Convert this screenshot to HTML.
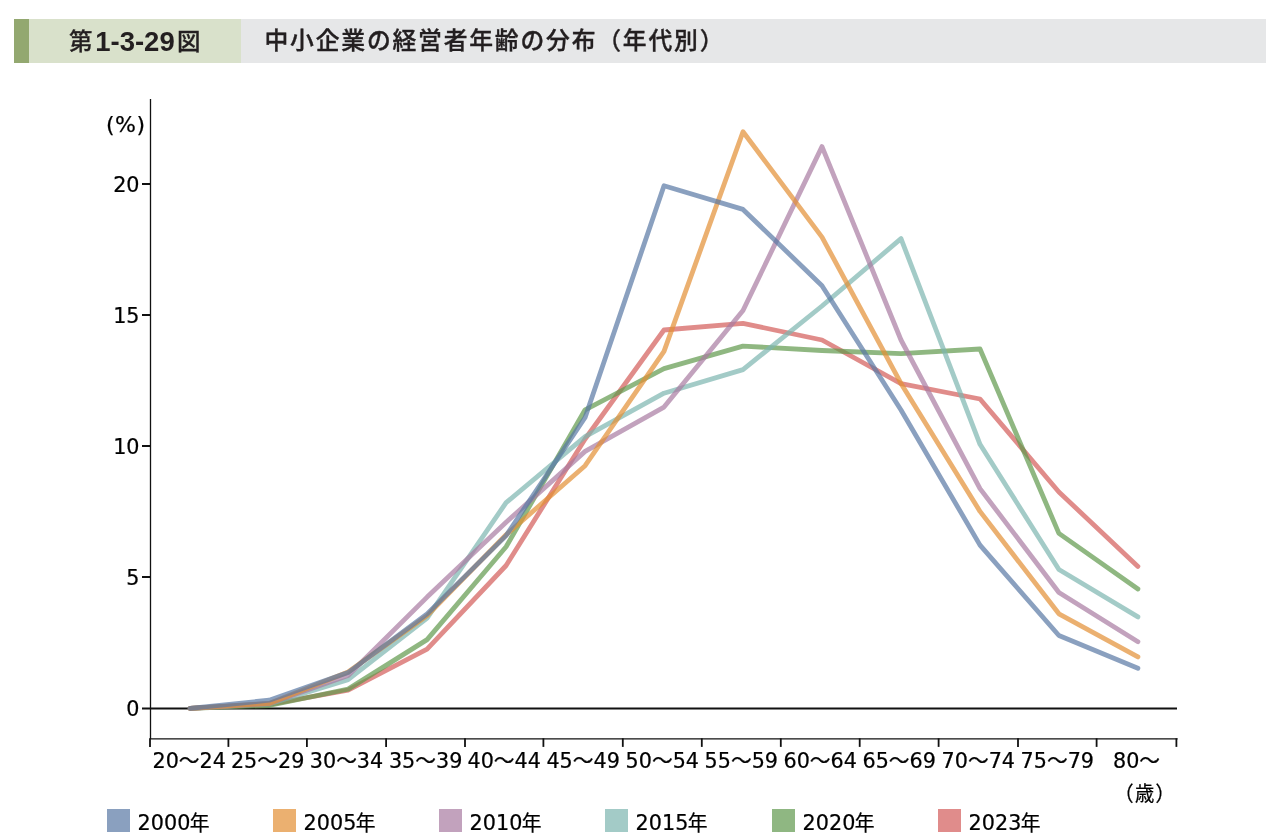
<!DOCTYPE html>
<html lang="ja">
<head>
<meta charset="utf-8">
<title>第1-3-29図 中小企業の経営者年齢の分布（年代別）</title>
<style>
html,body{margin:0;padding:0;background:#fff;}
body{width:1282px;height:840px;position:relative;overflow:hidden;font-family:"Liberation Sans","Noto Sans CJK JP",sans-serif;color:#231f20;}
.hdr{position:absolute;left:14px;top:19px;width:1252px;height:44px;background:#e6e7e8;}
.hdr .stripe{position:absolute;left:0;top:0;width:15px;height:44px;background:#93a870;}
.hdr .num{position:absolute;left:15px;top:0;width:212px;height:44px;background:#d9e1cb;}
.hdr .num span{position:absolute;white-space:nowrap;line-height:1;}
.hdr .ttl{position:absolute;left:250.5px;top:-2px;height:44px;line-height:44px;font-size:23.8px;font-weight:500;letter-spacing:1.8px;-webkit-text-stroke:0.35px #231f20;white-space:nowrap;font-family:"Noto Sans CJK JP","Liberation Sans",sans-serif;}
svg{position:absolute;left:0;top:0;}
svg text{font-family:"DejaVu Sans","Noto Sans CJK JP",sans-serif;fill:#000;stroke:#000;stroke-width:0.25px;}
</style>
</head>
<body>
<div class="hdr">
  <div class="stripe"></div>
  <div class="num"><span class="k1" style="left:40px;top:9.5px;font-size:23.5px;font-weight:500;-webkit-text-stroke:0.3px #231f20;font-family:'Noto Sans CJK JP',sans-serif;">第</span><span class="n" style="left:66.2px;top:9.1px;font-size:27.5px;font-weight:700;font-family:'Liberation Sans',sans-serif;">1-3-29</span><span class="k2" style="left:148px;top:9.5px;font-size:23.5px;font-weight:500;-webkit-text-stroke:0.3px #231f20;font-family:'Noto Sans CJK JP',sans-serif;">図</span></div>
  <div class="ttl">中小企業の経営者年齢の分布（年代別）</div>
</div>
<svg width="1282" height="840" viewBox="0 0 1282 840">

<g stroke="#111" fill="none">
<line x1="150.5" y1="99" x2="150.5" y2="739" stroke-width="1.3"/>
<line x1="150" y1="738.8" x2="1177.6" y2="738.8" stroke-width="1.3"/>
<line x1="142" y1="708.6" x2="1177" y2="708.6" stroke-width="2"/>
<line x1="142" y1="184" x2="150" y2="184" stroke-width="2"/>
<line x1="142" y1="315" x2="150" y2="315" stroke-width="2"/>
<line x1="142" y1="446" x2="150" y2="446" stroke-width="2"/>
<line x1="142" y1="577" x2="150" y2="577" stroke-width="2"/>
<line x1="150" y1="738.3" x2="150" y2="746.9" stroke-width="1.8"/>
<line x1="228.4" y1="738.3" x2="228.4" y2="746.9" stroke-width="1.8"/>
<line x1="306.9" y1="738.3" x2="306.9" y2="746.9" stroke-width="1.8"/>
<line x1="386.1" y1="738.3" x2="386.1" y2="746.9" stroke-width="1.8"/>
<line x1="465" y1="738.3" x2="465" y2="746.9" stroke-width="1.8"/>
<line x1="543.4" y1="738.3" x2="543.4" y2="746.9" stroke-width="1.8"/>
<line x1="622.8" y1="738.3" x2="622.8" y2="746.9" stroke-width="1.8"/>
<line x1="701.8" y1="738.3" x2="701.8" y2="746.9" stroke-width="1.8"/>
<line x1="780.8" y1="738.3" x2="780.8" y2="746.9" stroke-width="1.8"/>
<line x1="859.7" y1="738.3" x2="859.7" y2="746.9" stroke-width="1.8"/>
<line x1="938.6" y1="738.3" x2="938.6" y2="746.9" stroke-width="1.8"/>
<line x1="1018" y1="738.3" x2="1018" y2="746.9" stroke-width="1.8"/>
<line x1="1096.6" y1="738.3" x2="1096.6" y2="746.9" stroke-width="1.8"/>
<line x1="1176.4" y1="738.3" x2="1176.4" y2="746.9" stroke-width="1.8"/>
</g>
<g fill="none" stroke-width="4.8" stroke-linecap="round" stroke-linejoin="round" opacity="1">
<polyline points="190.2,708.3 269.2,704.5 348.1,690.1 427.1,649.1 506.1,565.5 585.1,439.0 664.0,330.0 743.0,323.4 822.0,340.0 901.0,383.7 980.0,399.0 1058.9,492.0 1137.9,566.4" stroke="#D35B59" stroke-opacity="0.7"/>
<polyline points="190.2,708.3 269.2,705.5 348.1,689.1 427.1,639.6 506.1,546.7 585.1,409.8 664.0,368.6 743.0,346.1 822.0,350.5 901.0,353.6 980.0,349.0 1058.9,533.4 1137.9,589.0" stroke="#5F984C" stroke-opacity="0.7"/>
<polyline points="190.2,708.3 269.2,704.0 348.1,679.6 427.1,618.1 506.1,502.6 585.1,436.7 664.0,393.2 743.0,369.6 822.0,306.0 901.0,238.6 980.0,444.3 1058.9,569.5 1137.9,616.9" stroke="#7CB5AF" stroke-opacity="0.7"/>
<polyline points="190.2,708.3 269.2,703.5 348.1,675.5 427.1,597.1 506.1,522.3 585.1,451.4 664.0,407.1 743.0,310.5 822.0,146.6 901.0,340.0 980.0,488.6 1058.9,592.5 1137.9,641.7" stroke="#A87AA1" stroke-opacity="0.7"/>
<polyline points="190.2,708.3 269.2,703.4 348.1,672.0 427.1,615.6 506.1,534.8 585.1,465.7 664.0,351.4 743.0,131.8 822.0,237.1 901.0,383.4 980.0,511.4 1058.9,613.8 1137.9,656.9" stroke="#E28E33" stroke-opacity="0.7"/>
<polyline points="190.2,708.3 269.2,700.2 348.1,672.6 427.1,613.9 506.1,535.6 585.1,417.5 664.0,185.7 743.0,209.4 822.0,285.7 901.0,410.0 980.0,545.1 1058.9,635.5 1137.9,668.3" stroke="#5877A4" stroke-opacity="0.7"/>
</g>
<g font-size="22">
<text transform="translate(139.5,192.2) scale(0.942,1)" text-anchor="end">20</text>
<text transform="translate(139.5,323.2) scale(0.942,1)" text-anchor="end">15</text>
<text transform="translate(139.5,454.2) scale(0.942,1)" text-anchor="end">10</text>
<text transform="translate(139.5,585.2) scale(0.942,1)" text-anchor="end">5</text>
<text transform="translate(139.5,716.2) scale(0.942,1)" text-anchor="end">0</text>
<text transform="translate(145.8,132.3) scale(1.0,1)" text-anchor="end" letter-spacing="0.6">(%)</text>
</g>
<g font-size="22">
<text transform="translate(189.2,768) scale(0.942,1)" text-anchor="middle">20～24</text>
<text transform="translate(267.6,768) scale(0.942,1)" text-anchor="middle">25～29</text>
<text transform="translate(346.5,768) scale(0.942,1)" text-anchor="middle">30～34</text>
<text transform="translate(425.6,768) scale(0.942,1)" text-anchor="middle">35～39</text>
<text transform="translate(504.2,768) scale(0.942,1)" text-anchor="middle">40～44</text>
<text transform="translate(583.1,768) scale(0.942,1)" text-anchor="middle">45～49</text>
<text transform="translate(662.3,768) scale(0.942,1)" text-anchor="middle">50～54</text>
<text transform="translate(741.3,768) scale(0.942,1)" text-anchor="middle">55～59</text>
<text transform="translate(820.2,768) scale(0.942,1)" text-anchor="middle">60～64</text>
<text transform="translate(899.2,768) scale(0.942,1)" text-anchor="middle">65～69</text>
<text transform="translate(978.3,768) scale(0.942,1)" text-anchor="middle">70～74</text>
<text transform="translate(1057.3,768) scale(0.942,1)" text-anchor="middle">75～79</text>
<text transform="translate(1136.5,768) scale(0.942,1)" text-anchor="middle">80～</text>
<text transform="translate(1145.2,801.2) scale(0.942,1)" text-anchor="middle" font-size="20.5" letter-spacing="1.4">（歳）</text>
</g>
<g font-size="22">
<rect x="107" y="809" width="23" height="23" fill="#8AA0BF"/>
<text transform="translate(137.6,830.3) scale(0.942,1)" text-anchor="start">2000<tspan font-size="21" dy="-0.4" dx="-0.5">年</tspan></text>
<rect x="273" y="809" width="23" height="23" fill="#EBB070"/>
<text transform="translate(303.6,830.3) scale(0.942,1)" text-anchor="start">2005<tspan font-size="21" dy="-0.4" dx="-0.5">年</tspan></text>
<rect x="439" y="809" width="23" height="23" fill="#C2A2BD"/>
<text transform="translate(469.6,830.3) scale(0.942,1)" text-anchor="start">2010<tspan font-size="21" dy="-0.4" dx="-0.5">年</tspan></text>
<rect x="605" y="809" width="23" height="23" fill="#A3CBC7"/>
<text transform="translate(635.6,830.3) scale(0.942,1)" text-anchor="start">2015<tspan font-size="21" dy="-0.4" dx="-0.5">年</tspan></text>
<rect x="772" y="809" width="23" height="23" fill="#8FB782"/>
<text transform="translate(802.6,830.3) scale(0.942,1)" text-anchor="start">2020<tspan font-size="21" dy="-0.4" dx="-0.5">年</tspan></text>
<rect x="938" y="809" width="23" height="23" fill="#E08C8B"/>
<text transform="translate(968.6,830.3) scale(0.942,1)" text-anchor="start">2023<tspan font-size="21" dy="-0.4" dx="-0.5">年</tspan></text>
</g>
</svg>
</body>
</html>
